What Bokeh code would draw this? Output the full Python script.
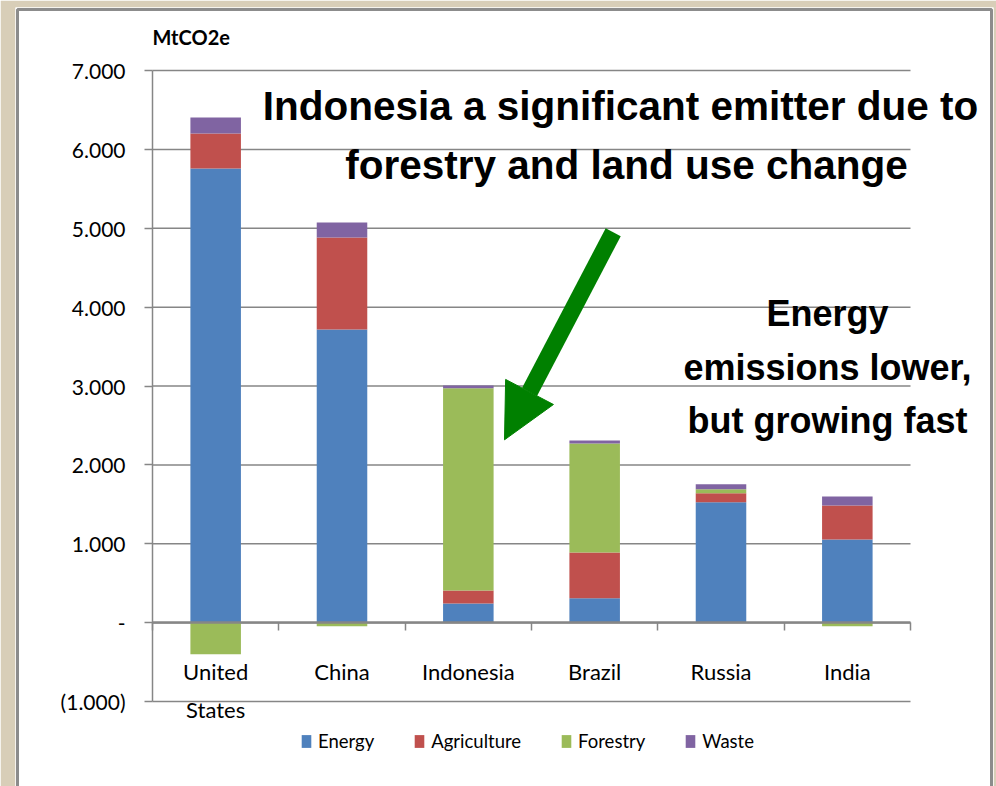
from bokeh.plotting import figure
from bokeh.models import (Range1d, LinearAxis, FixedTicker, Label, Arrow, NormalHead,
                          Legend, LegendItem, ColumnDataSource)
from bokeh.embed import file_html
from bokeh.resources import INLINE

# Emissions by source, MtCO2e
countries = ["United States", "China", "Indonesia", "Brazil", "Russia", "India"]
tick_names = ["United\nStates", "China", "Indonesia", "Brazil", "Russia", "India"]
energy = [5757, 3716, 242, 309, 1526, 1054]
agriculture = [444, 1166, 165, 580, 115, 431]
forestry = [-401, -46, 2565, 1381, 50, -46]
waste = [203, 190, 34, 38, 64, 114]

series_names = ["Energy", "Agriculture", "Forestry", "Waste"]
series_values = [energy, agriculture, forestry, waste]
colors = ["#4F81BD", "#C0504D", "#9BBB59", "#8064A2"]

y_ticks = [-1000, 0, 1000, 2000, 3000, 4000, 5000, 6000, 7000]
y_tick_labels = ["(1.000)", "-", "1.000", "2.000", "3.000", "4.000", "5.000", "6.000", "7.000"]

LABEL_FONT = "Lato"
HEAD_FONT = "Liberation Sans"
GRID = "#868686"
BEIGE = "#d8ceb8"

W, H = 996, 786
# the white slide panel is the plot frame; the chart's axes sit inside it
FRAME_L, FRAME_R, FRAME_T, FRAME_B = 15, 993, 7, 786
# pixel span of the value axis and of the category band
AX_L, AX_R, AX_T, AX_B = 152, 910, 70, 701
n = len(countries)
x_per_px = n / (AX_R - AX_L)
y_per_px = (y_ticks[-1] - y_ticks[0]) / (AX_B - AX_T)
x_range = Range1d((FRAME_L - AX_L) * x_per_px, (FRAME_R - AX_L) * x_per_px)
y_range = Range1d(y_ticks[0] - (FRAME_B - AX_B) * y_per_px, y_ticks[-1] + (AX_T - FRAME_T) * y_per_px)

p = figure(width=W, height=H, x_range=x_range, y_range=y_range,
           output_backend="svg", toolbar_location=None, x_axis_type=None, y_axis_type=None,
           min_border_left=FRAME_L, min_border_right=W - FRAME_R,
           min_border_top=FRAME_T, min_border_bottom=H - FRAME_B)
p.border_fill_color = BEIGE
p.background_fill_color = "white"
p.outline_line_color = None
p.xgrid.visible = False
p.ygrid.visible = False

# grey rule round the slide panel (left, top, right)
px2x = lambda px: (px - AX_L) * x_per_px
py2y = lambda py: y_ticks[-1] - (py - AX_T) * y_per_px
p.line(x=[px2x(17), px2x(17), px2x(991), px2x(991)],
       y=[py2y(800), py2y(9), py2y(9), py2y(800)], line_color="#8c8c8c", line_width=3)

# horizontal gridlines across the category band
p.segment(x0=[0] * len(y_ticks), x1=[n] * len(y_ticks), y0=y_ticks, y1=y_ticks,
          line_color=GRID, line_width=1.5)

# stacked bars: positives stack upward from zero, negatives hang below zero
x = [i + 0.5 for i in range(n)]
pos_base = [0.0] * n
neg_base = [0.0] * n
renderers = []
for name, vals, col in zip(series_names, series_values, colors):
    bottoms, tops = [], []
    for i, v in enumerate(vals):
        if v >= 0:
            bottoms.append(pos_base[i]); tops.append(pos_base[i] + v); pos_base[i] += v
        else:
            bottoms.append(neg_base[i]); tops.append(neg_base[i] + v); neg_base[i] += v
    src = ColumnDataSource(dict(x=x, bottom=bottoms, top=tops))
    r = p.vbar(x="x", width=0.4, bottom="bottom", top="top", source=src,
               fill_color=col, line_color=None)
    renderers.append(r)

# value axis
yaxis = LinearAxis(ticker=FixedTicker(ticks=y_ticks), fixed_location=0,
                   bounds=(y_ticks[0], y_ticks[-1]),
                   major_label_overrides={t: s for t, s in zip(y_ticks, y_tick_labels)})
yaxis.axis_line_color = GRID
yaxis.axis_line_width = 1.5
yaxis.major_tick_line_color = GRID
yaxis.major_tick_line_width = 1.5
yaxis.major_tick_out = 8
yaxis.major_tick_in = 0
yaxis.minor_tick_line_color = None
yaxis.major_label_text_font = LABEL_FONT
yaxis.major_label_text_font_size = "21px"
yaxis.major_label_text_color = "#000000"
yaxis.major_label_standoff = 19
p.add_layout(yaxis, "left")

# category axis sitting on the zero line
xaxis = LinearAxis(ticker=FixedTicker(ticks=x, minor_ticks=list(range(n + 1))),
                   major_label_overrides={c: s for c, s in zip(x, tick_names)},
                   fixed_location=0, bounds=(0, n))
xaxis.axis_line_color = GRID
xaxis.axis_line_width = 2.5
xaxis.major_tick_line_color = None
xaxis.major_tick_out = 0
xaxis.major_tick_in = 0
xaxis.minor_tick_line_color = GRID
xaxis.minor_tick_line_width = 1.5
xaxis.minor_tick_out = 8
xaxis.minor_tick_in = 0
xaxis.major_label_text_font = LABEL_FONT
xaxis.major_label_text_font_size = "22px"
xaxis.major_label_text_color = "#000000"
xaxis.major_label_text_line_height = 1.42
xaxis.major_label_standoff = 27
p.add_layout(xaxis, "below")

# unit label
p.add_layout(Label(x=0, y=py2y(36), text="MtCO2e", text_align="left", text_baseline="middle",
                   text_font=LABEL_FONT, text_font_style="bold", text_font_size="20px",
                   text_color="#000000"))

# headline annotations
title_kw = dict(text_align="center", text_baseline="alphabetic", text_font=HEAD_FONT,
                text_font_style="bold", text_color="#000000")
p.add_layout(Label(x=px2x(620), y=py2y(105), text="Indonesia a significant emitter due to",
                   text_font_size="40.5px", **title_kw))
p.add_layout(Label(x=px2x(626), y=py2y(164), text="forestry and land use change",
                   text_font_size="40.5px", **title_kw))
for py, line in zip([313, 367, 420], ["Energy", "emissions lower,", "but growing fast"]):
    p.add_layout(Label(x=px2x(827), y=py2y(py), text=line, text_font_size="36px", **title_kw))

# pointer to Indonesia
p.add_layout(Arrow(x_start=px2x(612.7), y_start=py2y(231.7), x_end=px2x(504), y_end=py2y(439.3),
                   line_color="#008000", line_width=17,
                   end=NormalHead(size=54, fill_color="#008000", line_color="#008000")))

legend = Legend(items=[LegendItem(label=nm, renderers=[r]) for nm, r in zip(series_names, renderers)],
                orientation="horizontal", location=(300 - FRAME_L, FRAME_B - 752))
legend.background_fill_alpha = 0
legend.border_line_color = None
legend.padding = 0
legend.margin = 0
legend.spacing = 39
legend.glyph_width = 12
legend.glyph_height = 16
legend.label_standoff = 6
legend.label_text_font = LABEL_FONT
legend.label_text_font_size = "18.5px"
legend.label_text_color = "#000000"
p.add_layout(legend, "center")

open("out.html", "w").write(file_html(p, INLINE))
